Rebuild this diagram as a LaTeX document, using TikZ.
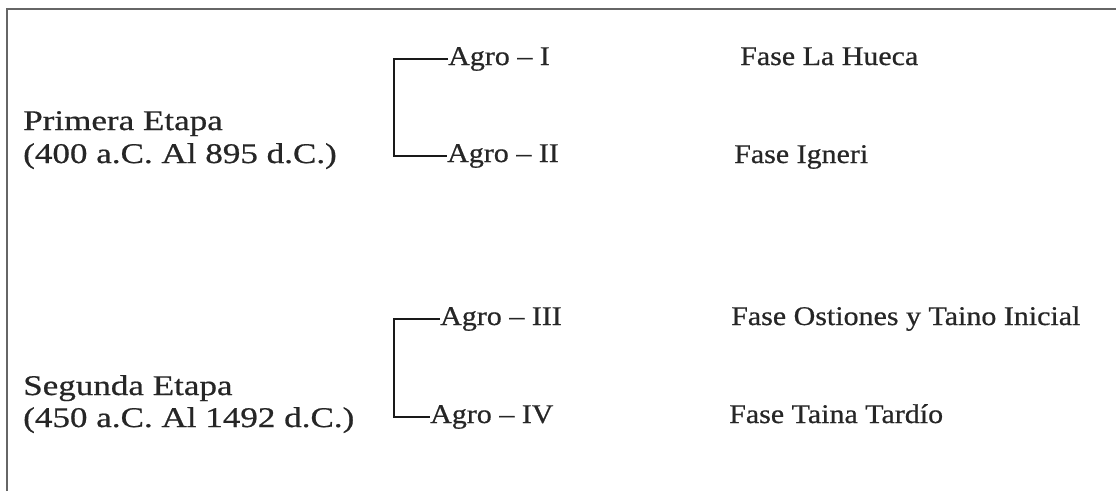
\documentclass[tikz,border=0pt]{standalone}
\usepackage{fontspec}
\setmainfont{Liberation Serif}
\newfontfamily\scanfont{Liberation Serif}[FakeBold=0.6,Ligatures=TeX]
\begin{document}
\begin{tikzpicture}[x=1pt,y=-1pt,
  stage/.style={anchor=base west,inner sep=0pt,xscale=1.23,text=black!85,font=\scanfont\fontsize{28.5}{30}\selectfont},
  agro/.style={anchor=base west,inner sep=0pt,xscale=1.11,text=black!85,font=\scanfont\fontsize{27}{30}\selectfont},
  fase/.style={anchor=base west,inner sep=0pt,xscale=1.11,text=black!85,font=\scanfont\fontsize{27}{30}\selectfont},
  frame/.style={line width=2pt,black!60},
  brk/.style={line width=1.8pt,black!90}]
\useasboundingbox (0,0) rectangle (1116,491);
% frame
\coordinate (fb) at (7,491);
\coordinate (fc) at (7,9);
\coordinate (fr) at (1116,9);
\draw[frame] (fb) -- (fc) -- (fr);
% stages
\node[stage] (p1) at (23,130) {Primera Etapa};
\node[stage] (p2) at (23,163) {(400 a.C. Al 895 d.C.)};
\node[stage] (s1) at (23,395) {Segunda Etapa};
\node[stage] (s2) at (23,427) {(450 a.C. Al 1492 d.C.)};
% agro
\node[agro] (a1) at (448,65) {Agro – I};
\node[agro] (a2) at (447,162) {Agro – II};
\node[agro] (a3) at (440,325) {Agro – III};
\node[agro] (a4) at (430,423) {Agro – IV};
% fases
\node[fase] (f1) at (740,65) {Fase La Hueca};
\node[fase] (f2) at (734,163) {Fase Igneri};
\node[fase] (f3) at (731,325) {Fase Ostiones y Taino Inicial};
\node[fase] (f4) at (729,423) {Fase Taina Tardío};
% brackets
\coordinate (k1) at (394,0);
\coordinate (k2) at (394,0);
\draw[brk] (a1.west) -- (a1.west -| k1) |- (a2.west);
\draw[brk] (a3.west) -- (a3.west -| k2) |- (a4.west);
\end{tikzpicture}
\end{document}
